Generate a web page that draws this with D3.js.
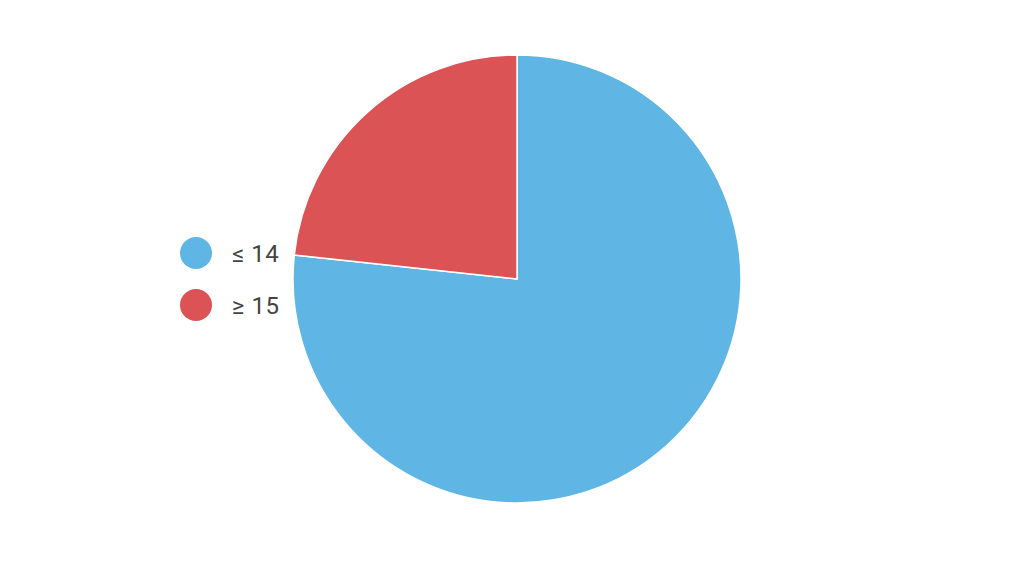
<!DOCTYPE html>
<html>
<head>
<meta charset="utf-8">
<script src="https://d3js.org/d3.v7.min.js"></script>
<style>
  body { margin: 0; background: #fff; }
  text { font-family: Roboto, sans-serif; }
</style>
</head>
<body>
<div id="chart"></div>
<script>
const labels = ["≤ 14", "≥ 15"];
const values = [76.7, 23.3];
const colors = ["#5FB6E5", "#DC5356"];

const width = 1036, height = 564;
const cx = 517, cy = 279, radius = 224;

const svg = d3.select("#chart").append("svg")
  .attr("width", width)
  .attr("height", height);

const pie = d3.pie().sort(null).value(d => d);
const arc = d3.arc().innerRadius(0).outerRadius(radius);

const color = d3.scaleOrdinal().domain(labels).range(colors);

svg.append("g")
  .attr("transform", "translate(" + cx + "," + cy + ")")
  .selectAll("path")
  .data(pie(values))
  .enter().append("path")
    .attr("d", arc)
    .attr("fill", (d, i) => color(labels[i]))
    .attr("stroke", "#fff")
    .attr("stroke-width", 1.5);

// legend
const legend = svg.selectAll(".legend")
  .data(labels)
  .enter().append("g")
    .attr("class", "legend")
    .attr("transform", (d, i) => "translate(196," + (253 + i * 52) + ")");

legend.append("circle")
  .attr("r", 16)
  .attr("fill", d => color(d));

legend.append("text")
  .attr("x", 36)
  .attr("y", 9)
  .attr("font-size", 24)
  .attr("letter-spacing", 0.5)
  .attr("fill", "#444")
  .text(d => d);
</script>
</body>
</html>
